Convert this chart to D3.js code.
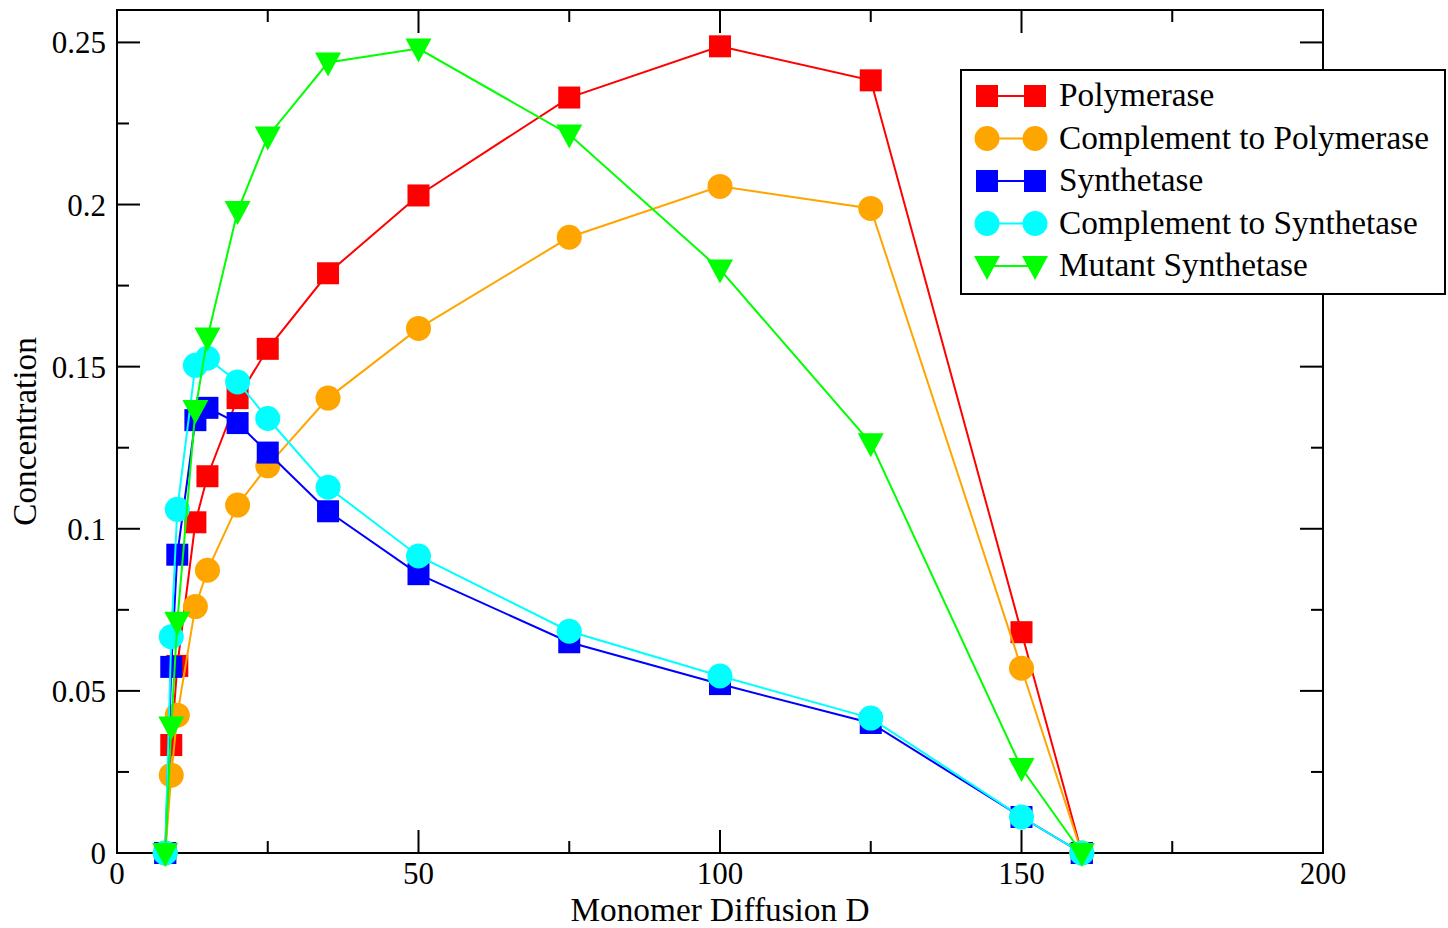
<!DOCTYPE html>
<html><head><meta charset="utf-8">
<script src="https://cdn.jsdelivr.net/npm/d3@7"></script>
<style>body{margin:0;background:#fff}svg{display:block}text{font-family:"Liberation Serif","Times New Roman",serif}</style>
</head><body>
<script>
const xValues = [8, 9, 10, 13, 15, 20, 25, 35, 50, 75, 100, 125, 150, 160];
const polymerase = [0, 0.0333, 0.0577, 0.102, 0.1162, 0.1403, 0.1555, 0.1788, 0.2028, 0.233, 0.2488, 0.2383, 0.0681, 0];
const complPolymerase = [0, 0.024, 0.0425, 0.076, 0.0872, 0.1073, 0.1194, 0.1403, 0.1618, 0.1899, 0.2056, 0.1988, 0.057, 0];
const synthetase = [0, 0.0574, 0.092, 0.1335, 0.1373, 0.1326, 0.1235, 0.1054, 0.086, 0.065, 0.0521, 0.0401, 0.0111, 0];
const complSynthetase = [0, 0.0667, 0.106, 0.1504, 0.1526, 0.1453, 0.134, 0.1128, 0.0916, 0.0684, 0.0546, 0.0416, 0.0111, 0];
const mutantSynthetase = [0, 0.039, 0.0713, 0.1366, 0.159, 0.198, 0.221, 0.2438, 0.2481, 0.2216, 0.18, 0.1264, 0.0262, 0];
const seriesNames = ["Polymerase", "Complement to Polymerase", "Synthetase", "Complement to Synthetase", "Mutant Synthetase"];
const xTicks = [0, 50, 100, 150, 200];
const yTicks = [0, 0.05, 0.1, 0.15, 0.2, 0.25];
const xLabel = "Monomer Diffusion D";
const yLabel = "Concentration";

const series = [
  {name: seriesNames[0], values: polymerase, color: "#ff0000", shape: "square"},
  {name: seriesNames[1], values: complPolymerase, color: "#ffa500", shape: "circle"},
  {name: seriesNames[2], values: synthetase, color: "#0000ff", shape: "square"},
  {name: seriesNames[3], values: complSynthetase, color: "#00ffff", shape: "circle"},
  {name: seriesNames[4], values: mutantSynthetase, color: "#00ff00", shape: "triangle"}
];

const W = 1448, H = 928;
const m = {left: 117, right: 1323, top: 10, bottom: 853};
const svg = d3.select("body").append("svg").attr("width", W).attr("height", H);
const x = d3.scaleLinear().domain([0, 200]).range([m.left, m.right]);
const y = d3.scaleLinear().domain([0, 0.26]).range([m.bottom, m.top]);

const FS_TICK = 31, FS_LABEL = 33.3;
// frame
svg.append("rect").attr("x", m.left).attr("y", m.top).attr("width", m.right - m.left).attr("height", m.bottom - m.top)
  .attr("fill", "none").attr("stroke", "#000").attr("stroke-width", 2);

const major = 23, minor = 12;
const xMinor = d3.range(25, 200, 50);
const yMinor = d3.range(0.025, 0.26, 0.05);
const tg = svg.append("g").attr("stroke", "#000").attr("stroke-width", 2);
xTicks.forEach(t => {
  tg.append("line").attr("x1", x(t)).attr("x2", x(t)).attr("y1", m.bottom).attr("y2", m.bottom - major);
  tg.append("line").attr("x1", x(t)).attr("x2", x(t)).attr("y1", m.top).attr("y2", m.top + major);
});
xMinor.forEach(t => {
  tg.append("line").attr("x1", x(t)).attr("x2", x(t)).attr("y1", m.bottom).attr("y2", m.bottom - minor);
  tg.append("line").attr("x1", x(t)).attr("x2", x(t)).attr("y1", m.top).attr("y2", m.top + minor);
});
yTicks.forEach(t => {
  tg.append("line").attr("y1", y(t)).attr("y2", y(t)).attr("x1", m.left).attr("x2", m.left + major);
  tg.append("line").attr("y1", y(t)).attr("y2", y(t)).attr("x1", m.right).attr("x2", m.right - major);
});
yMinor.forEach(t => {
  tg.append("line").attr("y1", y(t)).attr("y2", y(t)).attr("x1", m.left).attr("x2", m.left + minor);
  tg.append("line").attr("y1", y(t)).attr("y2", y(t)).attr("x1", m.right).attr("x2", m.right - minor);
});

svg.selectAll(".xt").data(xTicks).enter().append("text")
  .attr("x", d => x(d)).attr("y", m.bottom + 31).attr("text-anchor", "middle").attr("font-size", FS_TICK)
  .text(d => d3.format("")(d));
svg.selectAll(".yt").data(yTicks).enter().append("text")
  .attr("x", m.left - 11).attr("y", d => y(d) + 11).attr("text-anchor", "end").attr("font-size", FS_TICK)
  .text(d => d === 0 ? "0" : String(d));

svg.append("text").attr("x", (m.left + m.right) / 2).attr("y", 920.7).attr("text-anchor", "middle").attr("font-size", FS_LABEL).text(xLabel);
svg.append("text").attr("transform", `translate(36,${(m.top + m.bottom) / 2}) rotate(-90)`).attr("text-anchor", "middle").attr("font-size", FS_LABEL).text(yLabel);

function drawMarker(g, shape, cx, cy, color) {
  if (shape === "square") {
    g.append("rect").attr("x", cx - 11).attr("y", cy - 11).attr("width", 22).attr("height", 22).attr("fill", color);
  } else if (shape === "circle") {
    g.append("circle").attr("cx", cx).attr("cy", cy).attr("r", 12.5).attr("fill", color);
  } else {
    g.append("path").attr("d", `M${cx - 13},${cy - 10} L${cx + 13},${cy - 10} L${cx},${cy + 14} Z`).attr("fill", color);
  }
}

const line = d3.line().x(d => x(d[0])).y(d => y(d[1]));
series.forEach(s => {
  const pts = xValues.map((xv, i) => [xv, s.values[i]]);
  const g = svg.append("g");
  g.append("path").attr("d", line(pts)).attr("fill", "none").attr("stroke", s.color).attr("stroke-width", 2);
  pts.forEach(p => drawMarker(g, s.shape, x(p[0]), y(p[1]), s.color));
});

// legend
const lg = svg.append("g");
lg.append("rect").attr("x", 961).attr("y", 70).attr("width", 484).attr("height", 224).attr("fill", "#fff").attr("stroke", "#000").attr("stroke-width", 2);
series.forEach((s, i) => {
  const cy = 96 + i * 42.5;
  lg.append("line").attr("x1", 987).attr("x2", 1035).attr("y1", cy).attr("y2", cy).attr("stroke", s.color).attr("stroke-width", 2);
  drawMarker(lg, s.shape, 987, cy, s.color);
  drawMarker(lg, s.shape, 1035, cy, s.color);
  lg.append("text").attr("x", 1059).attr("y", cy + 10).attr("font-size", FS_LABEL).text(s.name);
});
</script>
</body></html>
